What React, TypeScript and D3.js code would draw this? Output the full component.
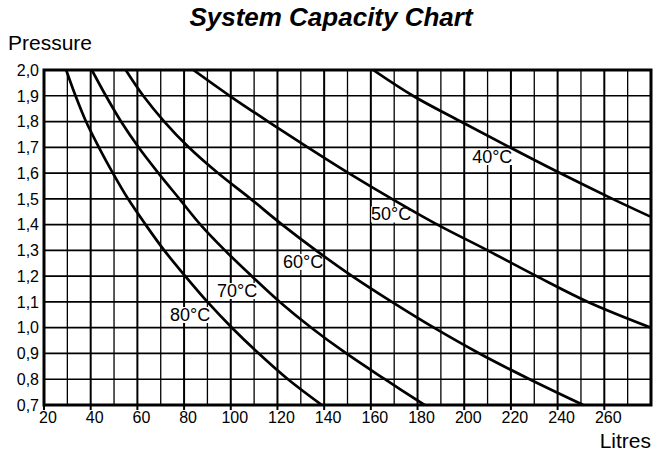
import React from "react";
import * as d3 from "d3";

const W = 656;
const H = 451;

// Pressure (bar) read at each gridline, Litres
const pressures = [2.0, 1.9, 1.8, 1.7, 1.6, 1.5, 1.4, 1.3, 1.2, 1.1, 1.0, 0.9, 0.8, 0.7];
const litres80 = [29.5, 33.5, 38, 43.5, 49.5, 56, 63.5, 71.5, 80.5, 90, 100.5, 112, 124.5, 139];
const litres70 = [40.5, 46.5, 53, 60.5, 69, 78, 87, 97.5, 109, 121, 134.5, 149.5, 166, 183];
const litres60 = [55, 62.5, 71.5, 82, 94.5, 108.5, 122, 136.5, 152, 169, 187, 206.5, 228, 251];
const litres50 = [84, 99.5, 116, 133, 150.5, 169, 188.5, 210, 231, 253, 280];
const litres40 = [161, 178, 198.5, 219.5, 241, 263.5];
const end40 = { litres: 280, pressure: 1.43 };

const seriesNames = ["80°C", "70°C", "60°C", "50°C", "40°C"];
// label anchor (centre x in litres, baseline in bar)
const labelLitres = [82.6, 102.7, 131, 168.7, 212];
const labelPressure = [1.026, 1.119, 1.232, 1.416, 1.639];

const xTicks = [20, 40, 60, 80, 100, 120, 140, 160, 180, 200, 220, 240, 260];
const yTicks = [2.0, 1.9, 1.8, 1.7, 1.6, 1.5, 1.4, 1.3, 1.2, 1.1, 1.0, 0.9, 0.8, 0.7];

const FONT = "'Liberation Sans', Arial, Helvetica, sans-serif";

export default function App() {
  const x = d3.scaleLinear().domain([20, 280]).range([44, 651]);
  const y = d3.scaleLinear().domain([0.7, 2.0]).range([405, 70]);

  const mk = (ls: number[]) => ls.map((l, i) => ({ litres: l, pressure: pressures[i] }));
  const series = [
    mk(litres80),
    mk(litres70),
    mk(litres60),
    mk(litres50),
    [...mk(litres40), end40],
  ].map((s) => [...s].sort((a, b) => a.litres - b.litres));

  const line = d3
    .line<{ litres: number; pressure: number }>()
    .x((d) => x(d.litres))
    .y((d) => y(d.pressure))
    .curve(d3.curveCatmullRom.alpha(0.5));

  const vLines = d3.range(30, 280, 10);
  const hLines = d3.range(8, 20).map((v) => v / 10);

  const fmt = (v: number) => v.toFixed(1).replace(".", ",");

  return (
    <svg
      width={W}
      height={H}
      style={{ position: "absolute", left: 0, top: 0, background: "#fff" }}
      fontFamily={FONT}
    >
      <defs>
        <clipPath id="plot">
          <rect x={44} y={70} width={607} height={335} />
        </clipPath>
      </defs>
      <rect x={0} y={0} width={W} height={H} fill="#fff" />

      {/* grid */}
      {vLines.map((v) => (
        <line
          key={"v" + v}
          x1={x(v)}
          x2={x(v)}
          y1={y(2.0)}
          y2={y(0.7)}
          stroke="#000"
          strokeWidth={v % 20 === 0 ? 2 : 1.3}
        />
      ))}
      {hLines.map((p) => (
        <line
          key={"h" + p}
          x1={x(20)}
          x2={x(280)}
          y1={y(p)}
          y2={y(p)}
          stroke="#000"
          strokeWidth={1.7}
        />
      ))}

      {/* x tick marks */}
      {xTicks.map((t) => (
        <line key={"xt" + t} x1={x(t)} x2={x(t)} y1={y(0.7)} y2={y(0.7) + 5} stroke="#000" strokeWidth={2} />
      ))}

      {/* label backgrounds */}
      {seriesNames.map((n, i) => (
        <rect
          key={"lb" + n}
          x={x(labelLitres[i]) - 20}
          y={y(labelPressure[i]) - 14}
          width={40}
          height={16}
          fill="#fff"
        />
      ))}

      {/* curves */}
      <g clipPath="url(#plot)">
        {series.map((s, i) => (
          <path key={"c" + i} d={line(s) || ""} fill="none" stroke="#000" strokeWidth={2.7} />
        ))}
      </g>

      {/* frame */}
      <rect x={44} y={70} width={607} height={335} fill="none" stroke="#000" strokeWidth={3} />

      {/* labels */}
      {seriesNames.map((n, i) => (
        <text
          key={"lt" + n}
          x={x(labelLitres[i])}
          y={y(labelPressure[i])}
          textAnchor="middle"
          fontSize={18}
          fill="#000"
        >
          {n}
        </text>
      ))}

      {/* y tick labels */}
      {yTicks.map((t) => (
        <text
          key={"yl" + t}
          x={39}
          y={y(t)}
          dy="0.36em"
          textAnchor="end"
          fontSize={16}
          fill="#000"
        >
          {fmt(t)}
        </text>
      ))}

      {/* x tick labels */}
      {xTicks.map((t) => (
        <text key={"xl" + t} x={x(t) + 4} y={423} textAnchor="middle" fontSize={16} fill="#000">
          {t}
        </text>
      ))}

      {/* titles */}
      <text x={331} y={26} textAnchor="middle" fontSize={26} fontWeight="bold" fontStyle="italic" fill="#000">
        System Capacity Chart
      </text>
      <text x={8} y={50} fontSize={21} fill="#000">
        Pressure
      </text>
      <text x={651} y={448} textAnchor="end" fontSize={21} fill="#000">
        Litres
      </text>
    </svg>
  );
}
